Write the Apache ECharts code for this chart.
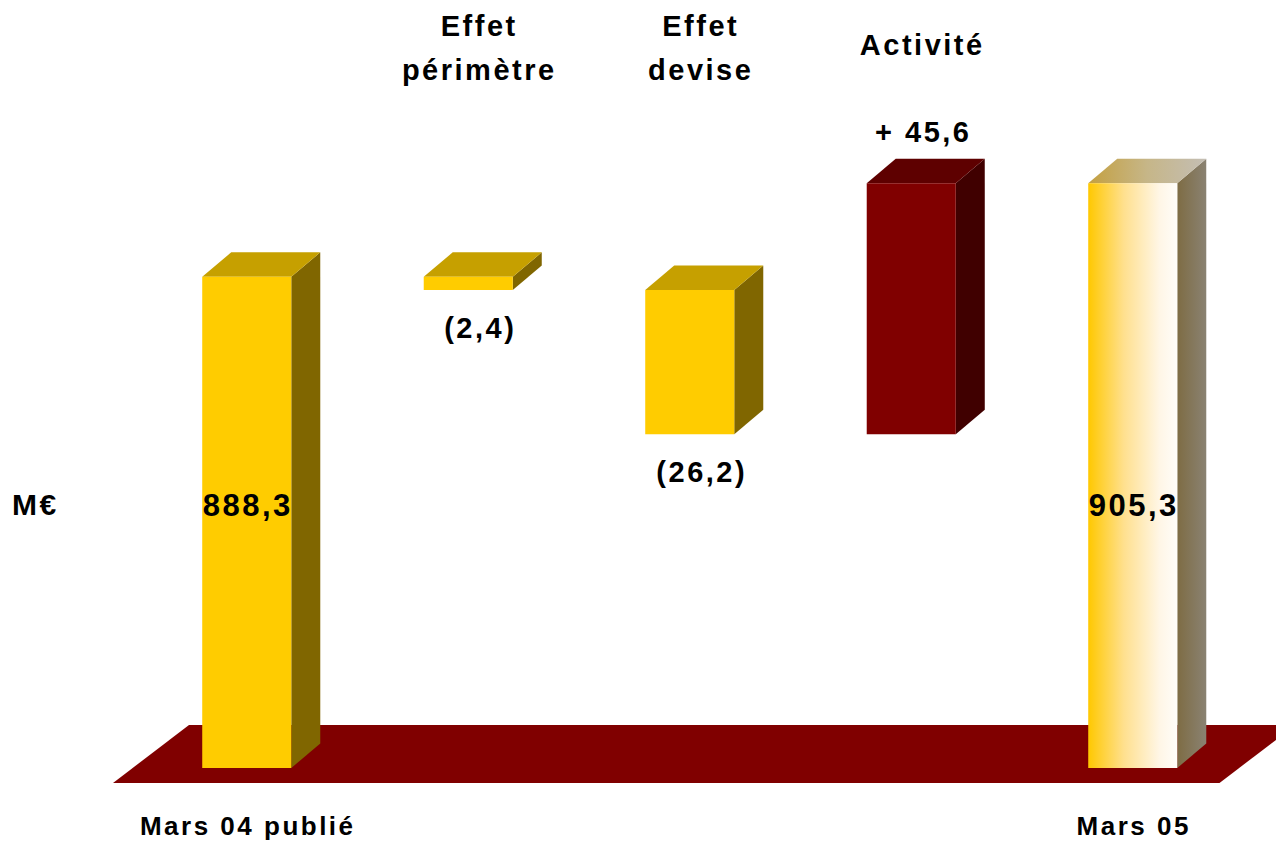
<!DOCTYPE html>
<html>
<head>
<meta charset="utf-8">
<script src="https://cdn.jsdelivr.net/npm/echarts@6/dist/echarts.min.js"></script>
<style>
  html, body { margin: 0; padding: 0; background: #ffffff; }
  #chart { width: 1276px; height: 841px; }
  #chart text { letter-spacing: 2.5px; }
</style>
</head>
<body>
<div id="chart"></div>
<script>
// Sales bridge, M€: March 2004 as published to March 2005
const categories = ['Mars 04 publié', 'Effet\npérimètre', 'Effet\ndevise', 'Activité', 'Mars 05'];
const kinds = ['total', 'delta', 'delta', 'delta', 'total'];
const values = [888.3, -2.4, -26.2, 45.6, 905.3];
const valueLabels = ['888,3', '(2,4)', '(26,2)', '+ 45,6', '905,3'];
const unitLabel = 'M€';

// Truncated value axis (the bars start from this floor value)
const axisMin = 799;
const axisMax = 935;

// Floating segments [index, low, high] for the waterfall
const segments = [];
let running = 0;
values.forEach((v, i) => {
  if (kinds[i] === 'total') {
    segments.push([i, axisMin, v]);
    running = v;
  } else {
    const next = running + v;
    segments.push([i, Math.min(running, next), Math.max(running, next)]);
    running = next;
  }
});

const FONT = '"Liberation Sans", Arial, sans-serif';
const DX = 29, DY = 24.5;               // 3D depth of the boxes
const gold = { front: '#FFCC00', top: '#C6A000', side: '#806600' };
const red  = { front: '#800000', top: '#5E0000', side: '#400000' };
const closing = {
  front: { type: 'linear', x: 0, y: 0, x2: 1, y2: 0, colorStops: [
    { offset: 0, color: '#FFC800' }, { offset: 0.4, color: '#FFE08E' },
    { offset: 0.8, color: '#FFF6E6' }, { offset: 1, color: '#FFFDF9' } ] },
  top: { type: 'linear', x: 0, y: 0, x2: 1, y2: 0, colorStops: [
    { offset: 0, color: '#C4A040' }, { offset: 0.5, color: '#C6B688' }, { offset: 1, color: '#C4BEB4' } ] },
  side: { type: 'linear', x: 0, y: 0, x2: 1, y2: 0, colorStops: [
    { offset: 0, color: '#7E6C44' }, { offset: 1, color: '#8A8272' } ] }
};

function txt(text, x, y, size, extra) {
  return {
    type: 'text', z2: 10,
    style: Object.assign({
      text: text, x: x, y: y, fill: '#000000',
      fontSize: size, fontWeight: 'bold', fontFamily: FONT,
      align: 'center', verticalAlign: 'middle'
    }, extra || {})
  };
}

function renderBox(params, api) {
  const i = api.value(0);
  const pLo = api.coord([i, api.value(1)]);
  const pHi = api.coord([i, api.value(2)]);
  const bw = api.size([1, 0])[0] * 0.402;
  const cx = pLo[0];
  const x0 = cx - bw / 2, x1 = cx + bw / 2;
  const yTop = pHi[1], yBot = pLo[1];

  let c;
  if (i === values.length - 1) c = closing;
  else if (kinds[i] === 'delta' && values[i] > 0) c = red;
  else c = gold;

  const children = [
    { type: 'polygon', shape: { points: [[x1, yTop], [x1 + DX, yTop - DY], [x1 + DX, yBot - DY], [x1, yBot]] },
      style: { fill: c.side } },
    { type: 'polygon', shape: { points: [[x0, yTop], [x1, yTop], [x1 + DX, yTop - DY], [x0 + DX, yTop - DY]] },
      style: { fill: c.top } },
    { type: 'rect', shape: { x: x0, y: yTop, width: bw, height: yBot - yTop },
      style: { fill: c.front } }
  ];

  if (kinds[i] === 'total') {
    children.push(txt(valueLabels[i], cx + 1, 505, 31));
    children.push(txt(categories[i], cx + 1, 826, 26));
  } else {
    if (values[i] < 0) children.push(txt(valueLabels[i], cx + 12, yBot + 38, 29));
    else children.push(txt(valueLabels[i], cx + 12, yTop - 51, 29));
    const twoLines = categories[i].indexOf('\n') >= 0;
    children.push(txt(categories[i], cx + 11, twoLines ? 48 : 45, 29, { lineHeight: 44 }));
  }
  return { type: 'group', children: children };
}

function renderFloor(params, api) {
  const cs = params.coordSys;
  const base = api.coord([0, axisMin])[1];
  const yF = base + 15;
  const xl = cs.x - 23, xr = cs.x + cs.width - 24;
  return {
    type: 'polygon',
    shape: { points: [[xl, yF], [xr, yF], [xr + 76, yF - 58], [xl + 76, yF - 58]] },
    style: { fill: '#800000' }
  };
}

const chart = echarts.init(document.getElementById('chart'), null, { renderer: 'svg' });
chart.setOption({
  animation: false,
  backgroundColor: '#ffffff',
  grid: { left: 136, right: 32.5, top: 20, bottom: 73 },
  xAxis: { type: 'category', data: categories, show: false },
  yAxis: { type: 'value', min: axisMin, max: axisMax, show: false },
  graphic: [{
    type: 'text', left: 12, top: 489,
    style: { text: unitLabel, fill: '#000000', fontSize: 30, fontWeight: 'bold', fontFamily: FONT }
  }],
  series: [
    { type: 'custom', renderItem: renderFloor, data: [[0]], z: 1, silent: true },
    { type: 'custom', renderItem: renderBox, data: segments, z: 2,
      encode: { x: 0, y: [1, 2] } }
  ]
});
</script>
</body>
</html>
